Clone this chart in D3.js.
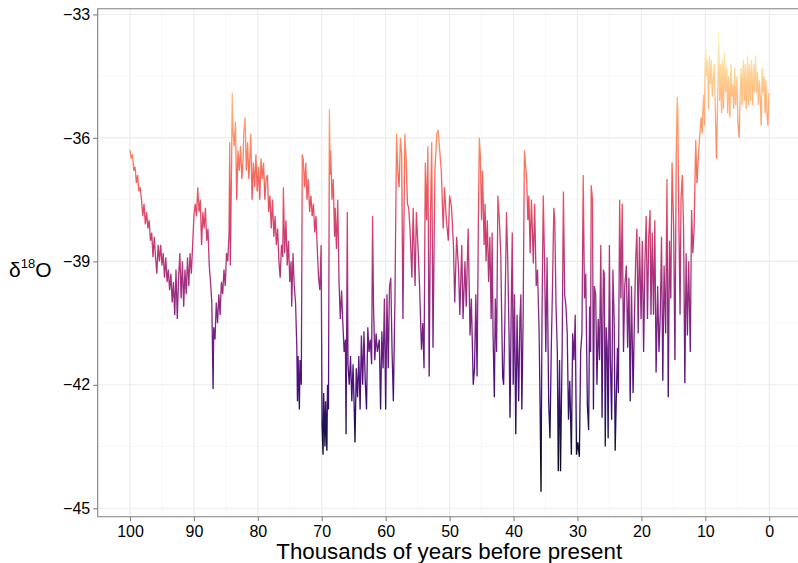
<!DOCTYPE html>
<html>
<head>
<meta charset="utf-8">
<script src="https://cdn.jsdelivr.net/npm/d3@7"></script>
<style>
  html, body { margin: 0; padding: 0; background: #fff; }
  svg text { font-family: "Liberation Sans", Arial, sans-serif; fill: #000; }
</style>
</head>
<body>
<div id="app"></div>
<script>
// ice core record: [thousands of years before present, d18O permil]
const stage5 = [
  [100.0,-36.3],[99.8,-36.5],[99.6,-36.4],[99.4,-36.8],[99.2,-36.7],[99.0,-37.1],[98.8,-36.9],[98.6,-37.3],
  [98.4,-37.2],[98.2,-37.5],[98.0,-37.9],[97.8,-37.6],[97.6,-38.1],[97.4,-37.8],[97.2,-38.2],[97.0,-38.0],
  [96.8,-38.5],[96.6,-38.3],[96.4,-38.9],[96.2,-38.4],[96.0,-38.9],[95.8,-39.3],[95.6,-38.6],[95.4,-39.0],
  [95.2,-38.6],[95.0,-39.1],[94.8,-38.8],[94.6,-39.4],[94.4,-38.9],[94.2,-39.5],[94.0,-39.2],[93.8,-39.7],
  [93.6,-39.3],[93.4,-40.0],[93.2,-39.5],[93.0,-40.3],[92.8,-39.2],[92.6,-40.4],[92.4,-39.4],[92.2,-38.8],
  [92.0,-39.9],[91.8,-39.0],[91.6,-40.1],[91.4,-39.2],[91.2,-39.8],[91.0,-38.9],[90.8,-39.6],[90.6,-38.8],
  [90.4,-39.3],[90.2,-38.6],[90.0,-37.9],[89.8,-37.6],[89.6,-37.9],[89.4,-37.2],[89.2,-37.8],[89.0,-37.5],
  [88.8,-38.6],[88.6,-37.8],[88.4,-38.2],[88.2,-37.7],[88.0,-38.5],[87.8,-38.2],[87.6,-39.1],[87.4,-39.5],
  [87.2,-40.0],[87.0,-42.1],[86.9,-40.6],[86.7,-40.9],[86.5,-40.0],[86.3,-40.5],[86.1,-39.8],[85.9,-40.3],
  [85.7,-39.5],[85.5,-39.8],[85.3,-39.2],[85.1,-39.6],[84.9,-38.8],[84.7,-39.0],[84.5,-38.3],[84.4,-36.1],
  [84.3,-39.1],[84.1,-36.5],[84.0,-34.9],[83.9,-35.8],[83.7,-36.2],[83.5,-35.6],[83.3,-37.5],[83.1,-36.3],
  [82.9,-36.8],[82.7,-36.2],[82.5,-37.0],[82.3,-36.5],[82.2,-35.9],[82.0,-35.5],[81.8,-36.8],[81.6,-36.1],
  [81.4,-37.0],[81.2,-36.3],[81.1,-35.9],[80.9,-37.5],[80.7,-36.6],[80.5,-37.2],[80.3,-36.4],[80.1,-37.3],
  [79.9,-36.7],[79.7,-37.5],[79.5,-36.5],[79.3,-37.0],[79.1,-36.6],[78.9,-37.5],[78.7,-37.0],[78.5,-36.9],
  [78.3,-37.8],[78.1,-37.4],[77.9,-38.2],[77.7,-37.5],[77.5,-38.4],[77.3,-37.9],[77.1,-38.6],[76.9,-38.2],
  [76.7,-39.0],[76.5,-39.4],[76.3,-38.6],[76.1,-38.9],[76.0,-37.2],[75.8,-38.8],[75.6,-38.0],[75.4,-39.1],
  [75.2,-38.5],[75.0,-39.5],[74.8,-39.0],[74.7,-40.1],[74.5,-38.8],[74.3,-39.6],[74.1,-40.0]
]
const stage4 = [
  [73.9,-41.1],[73.8,-42.4],[73.7,-41.3],[73.5,-42.6],[73.4,-41.4],[73.2,-42.0],[73.05,-36.4],[72.9,-36.5],
  [72.7,-37.2],[72.5,-36.6],[72.3,-37.5],[72.1,-37.0],[71.9,-37.8],[71.7,-37.4],[71.5,-37.9],[71.3,-37.6],
  [71.1,-38.3],[70.9,-37.9],[70.7,-38.7],[70.5,-39.4],[70.3,-39.7],[70.1,-38.6],[69.95,-43.0],[69.8,-43.7],
  [69.7,-42.2],[69.5,-43.5],[69.4,-42.4],[69.2,-43.6],[69.1,-42.0],[68.95,-42.6],[68.8,-35.3],[68.7,-36.9],
  [68.6,-36.3],[68.4,-37.5],[68.2,-37.0],[68.0,-38.4],[67.9,-37.7],[67.7,-38.7],[67.5,-37.5],[67.3,-39.5],
  [67.1,-40.4],[66.9,-39.7],[66.7,-40.5],[66.5,-41.2],[66.3,-40.9],[66.2,-43.2],[66.0,-37.8],[65.9,-41.5],
  [65.7,-42.0],[65.5,-41.3],[65.3,-42.4],[65.1,-41.5],[64.9,-42.7],[64.8,-43.4],[64.6,-41.6],[64.4,-42.3],
  [64.2,-41.3],[64.0,-42.6],[63.8,-40.8],[63.6,-42.0],[63.4,-40.7],[63.2,-41.9],[63.0,-42.6],[62.8,-40.6],
  [62.6,-41.2],[62.4,-40.9],[62.2,-41.5],[62.05,-37.9],[61.9,-40.1],[61.7,-41.4],[61.5,-40.75],[61.3,-41.2],
  [61.0,-40.9],[60.8,-42.6],[60.6,-40.7],[60.4,-41.6],[60.2,-39.9],[60.0,-42.6],[59.8,-39.8],[59.6,-41.6],
  [59.4,-39.6],[59.2,-39.4],[59.0,-41.2],[58.8,-42.4],[58.55,-39.9]
]
const stage3 = [
  [58.3,-35.9],[58.1,-36.8],[57.9,-37.2],[57.7,-36.0],[57.5,-36.4],[57.3,-40.4],[57.0,-35.9],[56.8,-36.5],
  [56.6,-37.6],[56.4,-37.7],[56.2,-38.2],[55.9,-39.4],[55.7,-37.7],[55.4,-39.6],[55.2,-37.8],[54.9,-38.8],
  [54.7,-39.6],[54.4,-41.15],[54.2,-40.5],[54.0,-41.6],[53.8,-36.6],[53.6,-38.0],[53.4,-36.2],[53.2,-41.8],
  [53.0,-38.0],[52.8,-36.1],[52.6,-41.1],[52.3,-36.8],[52.0,-35.9],[51.8,-35.8],[51.6,-36.2],[51.3,-36.8],
  [51.0,-38.2],[50.8,-37.2],[50.5,-38.0],[50.2,-38.5],[50.0,-37.4],[49.7,-37.7],[49.4,-38.6],[49.2,-40.0],
  [48.9,-38.4],[48.6,-39.2],[48.4,-40.3],[48.1,-38.6],[47.9,-40.4],[47.6,-39.0],[47.4,-40.1],[47.1,-38.2],
  [46.8,-40.8],[46.6,-39.9],[46.3,-42.0],[46.1,-41.6],[45.9,-39.8],[45.7,-41.8],[45.5,-38.0],[45.35,-36.0],
  [45.2,-36.4],[45.0,-38.0],[44.85,-36.8],[44.6,-38.6],[44.45,-37.6],[44.3,-39.0],[44.1,-38.0],[43.9,-39.5],
  [43.7,-38.4],[43.5,-40.4],[43.35,-38.3],[43.2,-40.8],[43.0,-42.3],[42.85,-39.9],[42.65,-41.2],[42.45,-37.4],
  [42.25,-37.9],[42.0,-38.8],[41.85,-40.4],[41.7,-41.8],[41.55,-42.0],[41.35,-40.4],[41.1,-37.8],[40.9,-39.0],
  [40.7,-40.8],[40.55,-42.8],[40.35,-40.0],[40.2,-38.3],[40.05,-42.0],[39.85,-39.8],[39.65,-43.2],[39.45,-40.3],
  [39.2,-42.4],[39.0,-40.4],[38.85,-39.8],[38.7,-42.6],[38.5,-40.4],[38.3,-36.3],[38.15,-36.6],[37.95,-37.0],
  [37.75,-38.0],[37.6,-37.4],[37.4,-38.8],[37.2,-37.5],[36.9,-39.05],[36.7,-37.6],[36.45,-39.6],[36.25,-39.2],
  [36.0,-40.7],[35.85,-42.45],[35.7,-44.6],[35.55,-40.4],[35.35,-37.4],[35.15,-39.0],[34.95,-41.2],[34.75,-38.9],
  [34.5,-42.45],[34.3,-43.3],[34.1,-41.15],[33.9,-39.6],[33.7,-37.7],[33.55,-38.0],[33.35,-40.1],[33.15,-41.2],
  [33.0,-44.1],[32.8,-41.4],[32.65,-44.1],[32.4,-41.2],[32.2,-37.3],[32.0,-39.8],[31.8,-40.1],[31.6,-40.75],
  [31.4,-42.85],[31.2,-41.9],[30.95,-43.7],[30.75,-40.75],[30.55,-41.4],[30.35,-40.3],[30.15,-43.7],[29.95,-43.4],
  [29.7,-43.75],[29.5,-41.2],[29.3,-40.75],[29.1,-36.9]
]
const stage2 = [
  [28.9,-39.9],[28.7,-39.3],[28.45,-42.5],[28.25,-43.1],[28.1,-40.1],[27.95,-41.2],[27.85,-37.15],[27.65,-37.5],
  [27.5,-42.6],[27.35,-39.6],[27.15,-39.8],[26.95,-42.0],[26.75,-40.4],[26.55,-41.4],[26.35,-38.6],[26.15,-42.8],
  [25.95,-39.2],[25.8,-39.3],[25.65,-43.5],[25.5,-40.6],[25.35,-41.1],[25.2,-43.3],[25.0,-38.6],[24.85,-41.4],
  [24.65,-42.85],[24.45,-39.2],[24.25,-40.5],[24.1,-43.6],[23.95,-42.5],[23.75,-41.1],[23.6,-42.2],[23.4,-37.5],
  [23.2,-39.9],[23.0,-37.6],[22.8,-41.2],[22.6,-39.6],[22.35,-39.1],[22.15,-41.1],[21.95,-39.4],[21.75,-42.4],
  [21.55,-39.6],[21.3,-42.2],[21.1,-40.5],[20.9,-39.0],[20.7,-38.2],[20.5,-40.75],[20.3,-38.4],[20.05,-40.4],
  [19.85,-38.5],[19.65,-41.2],[19.45,-39.05],[19.25,-37.9],[19.05,-40.4],[18.85,-38.4],[18.65,-37.75],[18.5,-40.3],
  [18.3,-38.3],[18.1,-40.3],[17.9,-38.0],[17.7,-41.7],[17.45,-39.6],[17.25,-41.2],[17.05,-40.3],[16.85,-38.4],
  [16.65,-41.9],[16.45,-39.1],[16.2,-40.75],[16.0,-37.0],[15.8,-42.3],[15.6,-38.5],[15.4,-39.9],[15.2,-36.6],
  [14.95,-38.2],[14.75,-41.4],[14.55,-36.5],[14.4,-35.0],[14.3,-35.3],[14.2,-37.2],[13.95,-40.3],[13.8,-37.5],
  [13.6,-36.9],[13.4,-38.2],[13.2,-41.96],[13.0,-38.8],[12.8,-40.8],[12.6,-39.0],[12.35,-41.2],[12.15,-37.75],
  [11.95,-38.8],[11.75,-38.2],[11.5,-36.05],[11.3,-37.1],[11.1,-36.5]
]
const holocene = [
  [10.95,-36.1],[10.8,-35.8],[10.65,-35.5],[10.5,-35.9],[10.4,-35.4],[10.25,-34.96],[10.15,-35.7],[10.05,-34.4],
  [9.95,-33.8],[9.8,-34.5],[9.65,-34.1],[9.5,-35.3],[9.35,-34.0],[9.2,-34.7],[9.05,-34.1],[8.9,-35.0],
  [8.75,-34.6],[8.6,-34.2],[8.45,-35.2],[8.25,-36.5],[8.05,-34.9],[7.9,-33.4],[7.75,-35.1],[7.6,-34.2],
  [7.45,-35.4],[7.3,-34.1],[7.15,-35.3],[7.0,-33.9],[6.85,-34.9],[6.65,-34.3],[6.5,-35.4],[6.35,-34.5],
  [6.15,-35.5],[6.0,-34.2],[5.85,-35.0],[5.7,-34.7],[5.55,-35.3],[5.4,-34.3],[5.25,-35.2],[5.05,-34.5],
  [4.9,-35.6],[4.7,-36.0],[4.55,-34.9],[4.4,-34.3],[4.25,-35.2],[4.05,-34.1],[3.9,-35.1],[3.75,-34.2],
  [3.6,-35.3],[3.4,-34.0],[3.25,-35.2],[3.1,-34.2],[2.95,-35.1],[2.8,-34.1],[2.6,-35.2],[2.45,-34.2],
  [2.3,-34.9],[2.15,-34.0],[2.0,-34.9],[1.85,-34.4],[1.7,-35.2],[1.55,-34.6],[1.4,-35.05],[1.25,-35.7],
  [1.1,-34.3],[0.95,-34.9],[0.8,-34.5],[0.65,-35.4],[0.5,-34.6],[0.35,-35.45],[0.2,-35.7],[0.05,-34.9]
]
const xTicks = [100, 90, 80, 70, 60, 50, 40, 30, 20, 10, 0]
const xMinor = [95, 85, 75, 65, 55, 45, 35, 25, 15, 5]
const yTicks = [-33, -36, -39, -42, -45]
const yMinor = [-34.5, -37.5, -40.5, -43.5]

const record = [...stage5, ...stage4, ...stage3, ...stage2, ...holocene]

const W = 798, H = 563
const margin = { left: 97.7, top: 8.7, right: 0, bottom: 46.3 }
const bounds = {
  width: W - margin.left - margin.right,
  height: H - margin.top - margin.bottom
}

const svg = d3.select('#app')
              .append('svg')
                .attr('width', W)
                .attr('height', H)
const g = svg.append('g')
              .attr('transform', `translate(${margin.left}, ${margin.top})`)

// scales (ggplot-like padding around the data)
const xScale = d3.scaleLinear()
                  .domain([105.05, -4.5])
                  .range([0, bounds.width])
const yScale = d3.scaleLinear()
                  .domain([-32.86, -45.205])
                  .range([0, bounds.height])

// grid
g.selectAll('.xminor').data(xMinor).join('line')
  .attr('x1', d => xScale(d)).attr('x2', d => xScale(d))
  .attr('y1', 0).attr('y2', bounds.height)
  .attr('stroke', '#f4f4f4').attr('stroke-width', 0.6)
g.selectAll('.yminor').data(yMinor).join('line')
  .attr('y1', d => yScale(d)).attr('y2', d => yScale(d))
  .attr('x1', 0).attr('x2', bounds.width)
  .attr('stroke', '#f4f4f4').attr('stroke-width', 0.6)
g.selectAll('.xmajor').data(xTicks).join('line')
  .attr('x1', d => xScale(d)).attr('x2', d => xScale(d))
  .attr('y1', 0).attr('y2', bounds.height)
  .attr('stroke', '#ebebeb').attr('stroke-width', 1.1)
g.selectAll('.ymajor').data(yTicks).join('line')
  .attr('y1', d => yScale(d)).attr('y2', d => yScale(d))
  .attr('x1', 0).attr('x2', bounds.width)
  .attr('stroke', '#ebebeb').attr('stroke-width', 1.1)

// colour by value: vertical magma gradient
const [vMin, vMax] = d3.extent(record, d => d[1])
const grad = svg.append('defs').append('linearGradient')
  .attr('id', 'magma')
  .attr('gradientUnits', 'userSpaceOnUse')
  .attr('x1', 0).attr('x2', 0)
  .attr('y1', yScale(vMax)).attr('y2', yScale(vMin))
d3.range(0, 1.0001, 0.05).forEach(t => {
  grad.append('stop')
    .attr('offset', t)
    .attr('stop-color', d3.interpolateMagma(1 - t))
})

const line = d3.line()
  .x(d => xScale(d[0]))
  .y(d => yScale(d[1]))

g.append('path')
  .datum(record)
  .attr('d', line)
  .attr('fill', 'none')
  .attr('stroke', 'url(#magma)')
  .attr('stroke-width', 1.3)
  .attr('stroke-linejoin', 'miter')

// axes
const axisColor = '#808080'
const xAxis = g.append('g')
  .attr('transform', `translate(0, ${bounds.height})`)
  .call(d3.axisBottom(xScale).tickValues(xTicks).tickSize(4.5).tickPadding(4).tickFormat(d3.format('d')))
const yAxis = g.append('g')
  .call(d3.axisLeft(yScale).tickValues(yTicks).tickSize(4.5).tickPadding(3).tickFormat(d => '\u2212' + Math.abs(d)))
;[xAxis, yAxis].forEach(a => {
  a.select('.domain').remove()
  a.selectAll('line').attr('stroke', axisColor).attr('stroke-width', 1.1)
  a.selectAll('text').attr('font-size', 16).attr('fill', '#000')
    .attr('font-family', '"Liberation Sans", Arial, sans-serif')
})
xAxis.selectAll('text').attr('dy', null).attr('y', 20.2)

// panel border (top, left, bottom)
g.append('path')
  .attr('d', `M${bounds.width + 2},0H0V${bounds.height}H${bounds.width + 2}`)
  .attr('fill', 'none')
  .attr('stroke', axisColor)
  .attr('stroke-width', 1.1)

// titles
svg.append('text')
  .attr('x', 449.2)
  .attr('y', 558.5)
  .attr('text-anchor', 'middle')
  .attr('font-size', 22.3)
  .text('Thousands of years before present')

const yl = svg.append('text')
  .attr('x', 9)
  .attr('y', 276.5)
  .attr('font-size', 21)
yl.append('tspan').text('δ')
yl.append('tspan').attr('font-size', 13).attr('dy', -8.5).text('18')
yl.append('tspan').attr('dy', 8.5).text('O')
</script>
</body>
</html>
